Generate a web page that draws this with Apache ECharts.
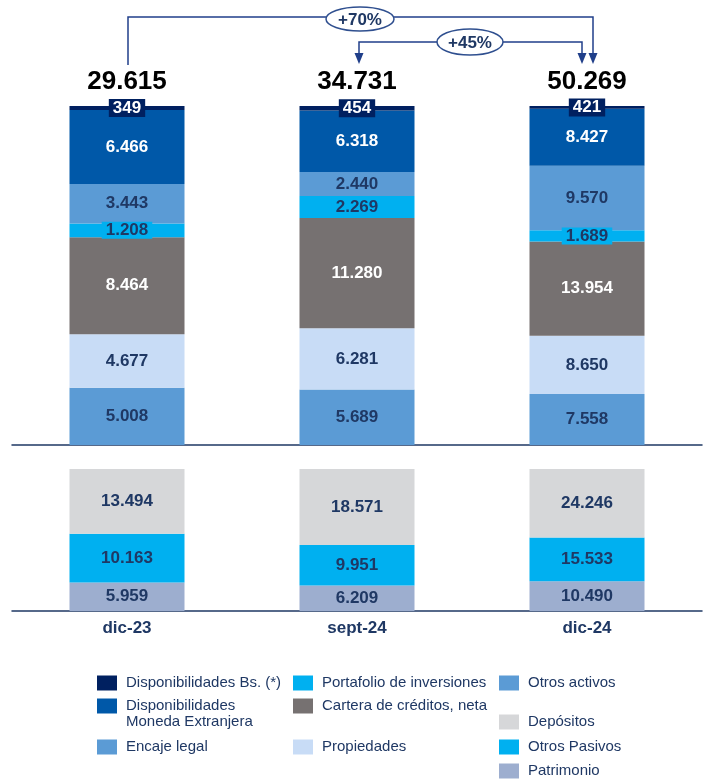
<!DOCTYPE html>
<html>
<head>
<meta charset="utf-8">
<script src="https://cdn.jsdelivr.net/npm/echarts@6/dist/echarts.min.js"></script>
<style>
  html, body { margin: 0; padding: 0; background: #ffffff; }
  #chart { width: 707px; height: 782px; }
</style>
</head>
<body>
<div id="chart"></div>
<script>
// periods
const categories = ["dic-23", "sept-24", "dic-24"];

// activos (millones)
const dispBs = [349, 454, 421];
const dispME = [6466, 6318, 8427];
const encajeLegal = [3443, 2440, 9570];
const portafolio = [1208, 2269, 1689];
const cartera = [8464, 11280, 13954];
const propiedades = [4677, 6281, 8650];
const otrosActivos = [5008, 5689, 7558];

// pasivos y patrimonio
const depositos = [13494, 18571, 24246];
const otrosPasivos = [10163, 9951, 15533];
const patrimonio = [5959, 6209, 10490];

// growth arrows
const growthLabels = ["+70%", "+45%"];

const NAVY = "#1f3864";
const FONT = "'Liberation Sans', Arial, sans-serif";

const fmt = (n) => String(n).replace(/\B(?=(\d{3})+(?!\d))/g, ".");

const assetSeries = [otrosActivos, propiedades, cartera, portafolio, encajeLegal, dispME, dispBs];
const liabSeries = [patrimonio, otrosPasivos, depositos];
const assetTotals = categories.map((c, i) => assetSeries.reduce((s, arr) => s + arr[i], 0));
const liabTotals = categories.map((c, i) => liabSeries.reduce((s, arr) => s + arr[i], 0));

// each bar is drawn as its share of the period total (both panels are 100% stacked)
function shares(arr, totals) {
  return arr.map((v, i) => ({ value: (v / totals[i]) * 100, raw: v }));
}

function barSeries(name, arr, totals, color, panel, labelOpts) {
  return {
    name: name,
    type: "bar",
    stack: panel === 0 ? "activos" : "pasivos",
    xAxisIndex: panel,
    yAxisIndex: panel,
    barWidth: "50%",
    itemStyle: { color: color },
    data: shares(arr, totals),
    label: Object.assign({
      show: true,
      position: "inside",
      formatter: (p) => fmt(p.data.raw),
      fontSize: 17,
      fontWeight: "bold",
      fontFamily: FONT,
      color: NAVY,
    }, labelOpts || {}),
  };
}

const myChart = echarts.init(document.getElementById("chart"), null, { renderer: "canvas" });

const ME_NAME = "Disponibilidades Moneda Extranjera";

const legendItems = [
  { name: "Disponibilidades Bs. (*)", left: 97, top: 675 },
  { name: ME_NAME, left: 97, top: 682, multi: true },
  { name: "Encaje legal", left: 97, top: 739 },
  { name: "Portafolio de inversiones", left: 293, top: 675 },
  { name: "Cartera de créditos, neta", left: 293, top: 698 },
  { name: "Propiedades", left: 293, top: 739 },
  { name: "Otros activos", left: 499, top: 675 },
  { name: "Depósitos", left: 499, top: 714 },
  { name: "Otros Pasivos", left: 499, top: 739 },
  { name: "Patrimonio", left: 499, top: 763 },
];

const option = {
  animation: false,
  textStyle: { fontFamily: FONT },
  grid: [
    { left: 12, width: 690, top: 106, height: 339 },
    { left: 12, width: 690, top: 469, height: 142 },
  ],
  xAxis: [
    {
      gridIndex: 0,
      type: "category",
      data: categories,
      axisLine: { lineStyle: { color: NAVY, width: 1.5 } },
      axisTick: { show: false },
      axisLabel: { show: false },
    },
    {
      gridIndex: 1,
      type: "category",
      data: categories,
      axisLine: { lineStyle: { color: NAVY, width: 1.5 } },
      axisTick: { show: false },
      axisLabel: {
        color: NAVY,
        fontSize: 17,
        fontWeight: "bold",
        fontFamily: FONT,
        margin: 9,
      },
    },
  ],
  yAxis: [
    { gridIndex: 0, type: "value", min: 0, max: 100, show: false },
    { gridIndex: 1, type: "value", min: 0, max: 100, show: false },
  ],
  legend: legendItems.map((it) => ({
    left: it.left,
    top: it.top,
    padding: 0,
    orient: "vertical",
    selectedMode: false,
    itemWidth: 20,
    itemHeight: 15,
    icon: "rect",
    data: [it.name],
    // the two-line item keeps its text hanging below the swatch
    formatter: it.multi ? () => "\u00a0\nDisponibilidades\nMoneda Extranjera" : "{name}",
    textStyle: {
      color: NAVY,
      fontSize: 15,
      fontFamily: FONT,
      lineHeight: 16,
      padding: [0, 0, 0, 4],
    },
  })),
  series: [
    barSeries("Otros activos", otrosActivos, assetTotals, "#5b9bd5", 0),
    barSeries("Propiedades", propiedades, assetTotals, "#c8dcf6", 0),
    barSeries("Cartera de créditos, neta", cartera, assetTotals, "#767171", 0, { color: "#ffffff" }),
    barSeries("Portafolio de inversiones", portafolio, assetTotals, "#00b0f0", 0, {
      backgroundColor: "#00b0f0",
      padding: [0, 4, 0, 4],
    }),
    barSeries("Encaje legal", encajeLegal, assetTotals, "#5b9bd5", 0),
    barSeries(ME_NAME, dispME, assetTotals, "#0058a8", 0, { color: "#ffffff" }),
    barSeries("Disponibilidades Bs. (*)", dispBs, assetTotals, "#002060", 0, {
      color: "#ffffff",
      backgroundColor: "#002060",
      padding: [1, 4, 0, 4],
    }),
    {
      // period totals written above each asset bar
      name: "total",
      type: "scatter",
      xAxisIndex: 0,
      yAxisIndex: 0,
      symbol: "rect",
      symbolSize: 1,
      itemStyle: { color: "#002060" },
      silent: true,
      z: 1,
      data: assetTotals.map((t) => ({ value: 100, raw: t })),
      label: {
        show: true,
        position: "top",
        distance: 11,
        formatter: (p) => fmt(p.data.raw),
        fontSize: 26,
        fontWeight: "bold",
        fontFamily: FONT,
        color: "#000000",
        opacity: 1,
      },
    },
    barSeries("Patrimonio", patrimonio, liabTotals, "#9daecf", 1),
    barSeries("Otros Pasivos", otrosPasivos, liabTotals, "#00b0f0", 1),
    barSeries("Depósitos", depositos, liabTotals, "#d6d7d9", 1),
  ],
};

myChart.setOption(option);

// growth arrows drawn from the axis positions of the bars
const cx = categories.map((c) => myChart.convertToPixel({ xAxisIndex: 0 }, c));
const LINE = "#203f8a";

function arrowHead(x, yTip) {
  return {
    type: "polygon",
    shape: { points: [[x - 4.5, yTip - 11], [x + 4.5, yTip - 11], [x, yTip]] },
    style: { fill: LINE },
    z: 20,
  };
}

function oval(x, y, rx, ry, text) {
  return [
    {
      type: "ellipse",
      shape: { cx: x, cy: y, rx: rx, ry: ry },
      style: { fill: "#ffffff", stroke: "#2f4f8f", lineWidth: 1.5 },
      z: 21,
    },
    {
      type: "text",
      x: x,
      y: y + 1,
      style: {
        text: text,
        align: "center",
        verticalAlign: "middle",
        font: "bold 17px " + FONT,
        fill: NAVY,
      },
      z: 22,
    },
  ];
}

const xa = cx[0] + 1, xb = cx[1] + 2, xc1 = cx[2] + 6, xc2 = cx[2] - 5;

myChart.setOption({
  graphic: [
    {
      type: "polyline",
      shape: { points: [[xa, 65], [xa, 17], [xc1, 17], [xc1, 54]] },
      style: { stroke: LINE, lineWidth: 1.5, fill: null },
      z: 20,
    },
    arrowHead(xc1, 64),
    {
      type: "polyline",
      shape: { points: [[xb, 54], [xb, 42], [xc2, 42], [xc2, 54]] },
      style: { stroke: LINE, lineWidth: 1.5, fill: null },
      z: 20,
    },
    arrowHead(xb, 64),
    arrowHead(xc2, 64),
    ...oval(360, 19, 34, 12, growthLabels[0]),
    ...oval(470, 42, 33, 13, growthLabels[1]),
  ],
});

window.addEventListener("resize", () => {
  myChart.resize();
});
</script>
</body>
</html>
